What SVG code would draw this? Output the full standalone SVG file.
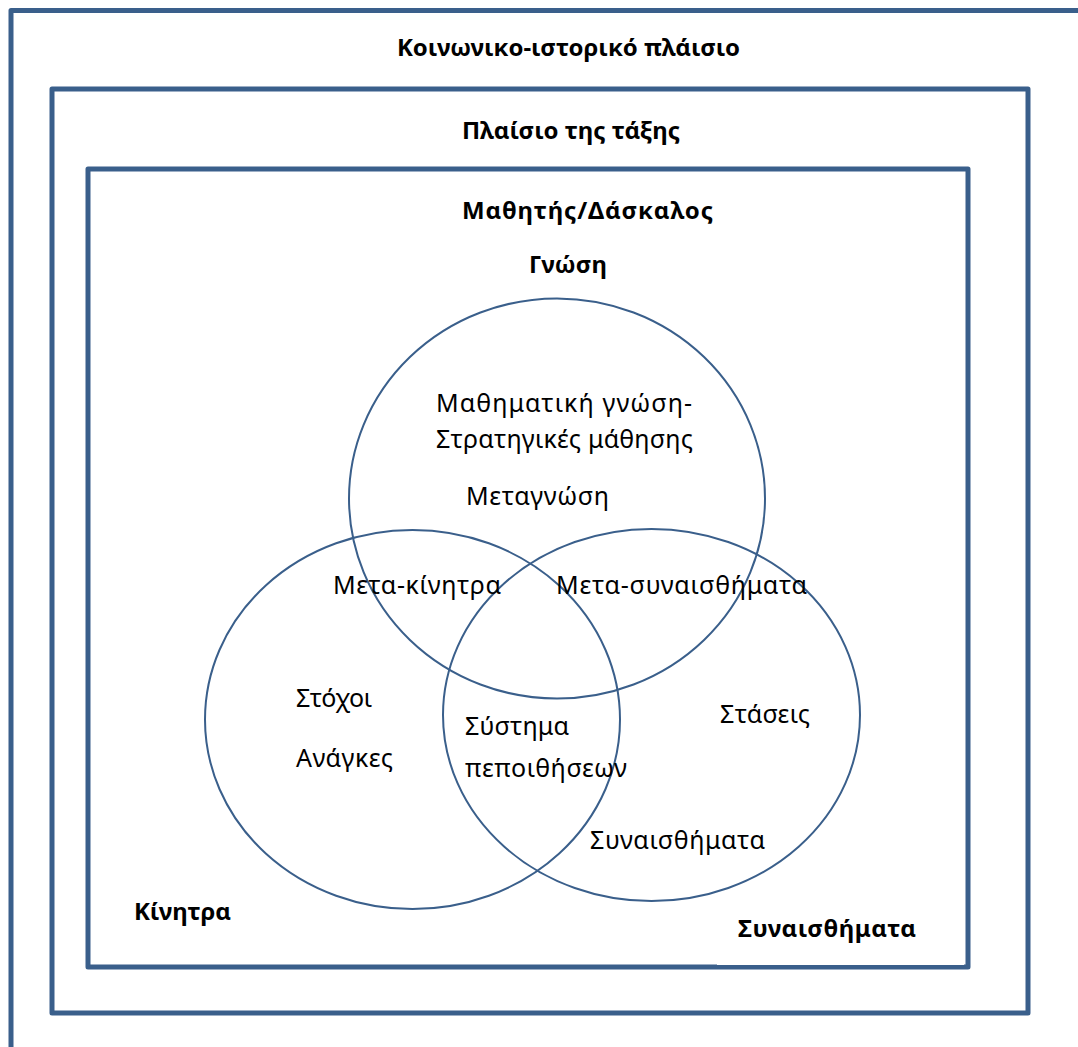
<svg xmlns="http://www.w3.org/2000/svg" width="1078" height="1047" viewBox="0 0 1078 1047">
<style>
.frame{fill:none;stroke:#3A5F8B;stroke-width:5;stroke-linejoin:round}
.venn{fill:none;stroke:#3A5F8B;stroke-width:2}
text{font-family:"Noto Sans","Liberation Sans",sans-serif;fill:#000}
.b{font-weight:bold;font-size:24px}
.n{font-size:25px}
</style>
<rect width="1078" height="1047" fill="#fff"/>
<g id="frame-social">
<rect class="frame" x="11" y="10.5" width="1200" height="1200"/>
<text class="b" x="397" y="56" textLength="343">Κοινωνικο-ιστορικό πλάισιο</text>
</g>
<g id="frame-class">
<rect class="frame" x="52" y="89" width="976" height="924"/>
<text class="b" x="462" y="139" textLength="218">Πλαίσιο της τάξης</text>
</g>
<g id="frame-student">
<rect class="frame" x="88" y="169" width="880" height="798"/>
<rect x="717" y="915" width="247" height="50" fill="#fff"/>
<text class="b" x="462" y="219" textLength="251">Μαθητής/Δάσκαλος</text>
</g>
<g id="circle-gnosi">
<ellipse class="venn" cx="557" cy="498.5" rx="208" ry="200"/>
<text class="b" x="529" y="273" textLength="78">Γνώση</text>
</g>
<g id="circle-kinitra">
<ellipse class="venn" cx="412.5" cy="719.5" rx="207.5" ry="189.5"/>
<text class="b" x="134" y="920" textLength="97">Κίνητρα</text>
</g>
<g id="circle-synaisthimata">
<ellipse class="venn" cx="651.5" cy="715" rx="208.5" ry="186"/>
<text class="b" x="738" y="937" textLength="178">Συναισθήματα</text>
</g>
<g id="labels">
<text class="n" x="436" y="412" textLength="256">Μαθηματική γνώση-</text>
<text class="n" x="436" y="448" textLength="257">Στρατηγικές μάθησης</text>
<text class="n" x="466" y="505" textLength="143">Μεταγνώση</text>
<text class="n" x="333" y="594" textLength="168">Μετα-κίνητρα</text>
<text class="n" x="556" y="594" textLength="251">Μετα-συναισθήματα</text>
<text class="n" x="296" y="707" textLength="76">Στόχοι</text>
<text class="n" x="296" y="767" textLength="97">Ανάγκες</text>
<text class="n" x="465" y="735" textLength="104">Σύστημα</text>
<text class="n" x="465" y="777" textLength="162">πεποιθήσεων</text>
<text class="n" x="720" y="723" textLength="90">Στάσεις</text>
<text class="n" x="590" y="849" textLength="175">Συναισθήματα</text>
</g>
<g id="connectors"/>
</svg>
